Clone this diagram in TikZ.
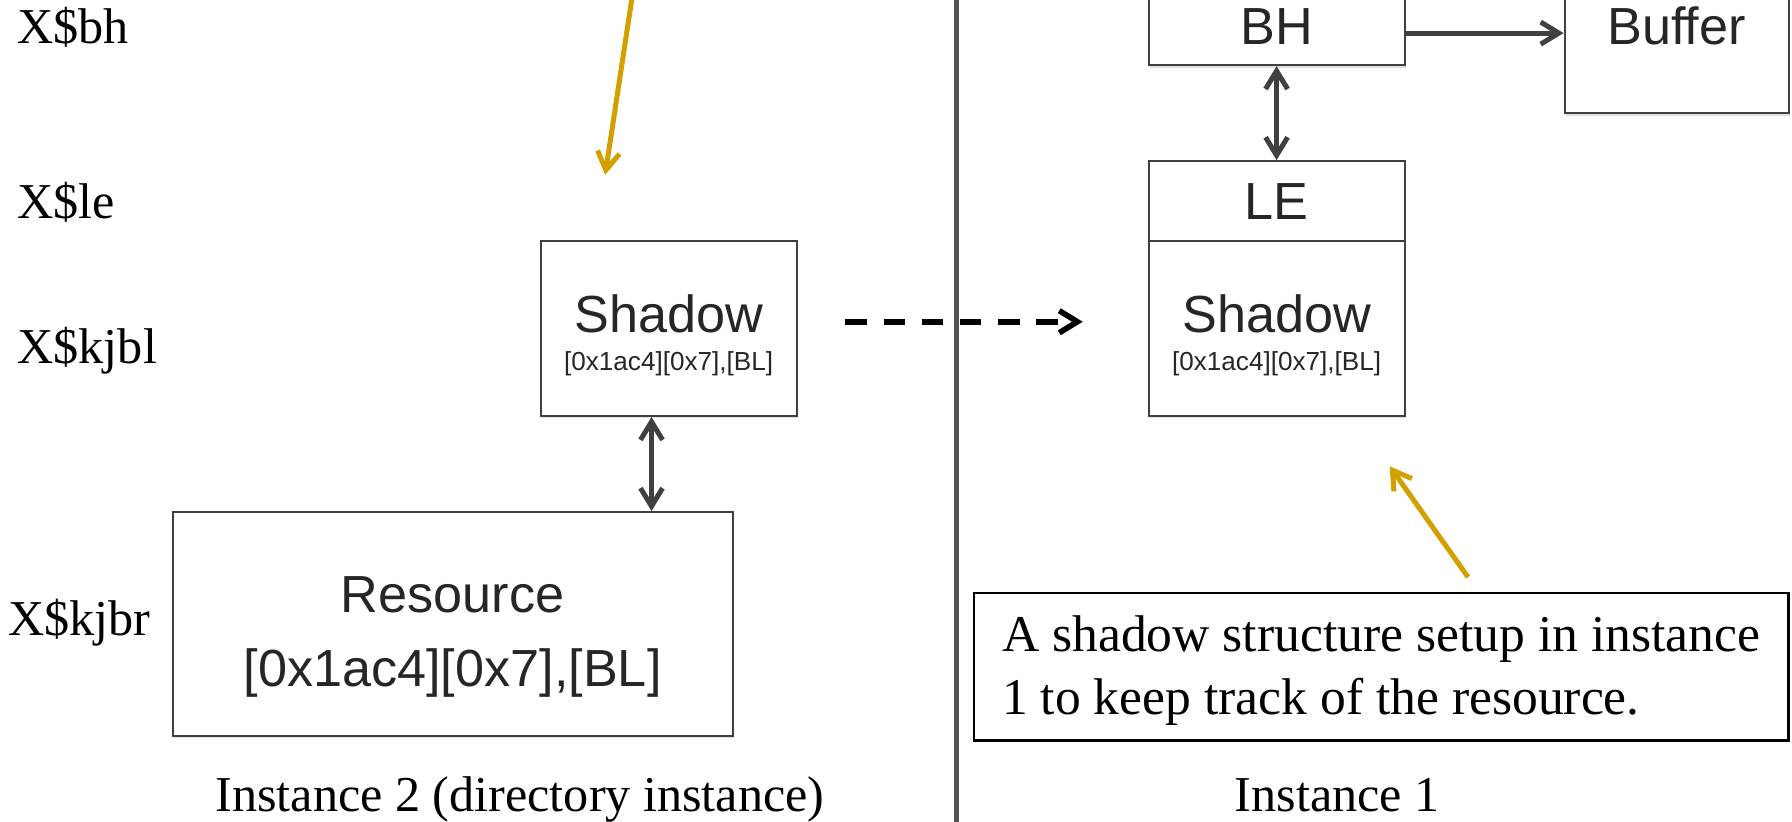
\documentclass[tikz,border=0pt]{standalone}
\usepackage{fontspec}
\setmainfont{Liberation Serif}
\setsansfont{Liberation Sans}
\usepackage{tikz}
\usetikzlibrary{arrows.meta,positioning,shadows}
\usepackage{xcolor}
\definecolor{dsgold}{RGB}{212,160,0}
\definecolor{dsgray}{RGB}{64,64,64}
\definecolor{dstext}{RGB}{38,38,38}
\newcommand{\dsbig}{\sffamily\fontsize{26}{30}\selectfont}
\newcommand{\dssmall}{\sffamily\fontsize{13}{15}\selectfont}
\newcommand{\dsserif}{\rmfamily\fontsize{25}{30}\selectfont}
\tikzstyle{struct} = [rectangle, draw=dsgray, line width=1pt, fill=white, text=dstext, font=\dsbig, inner sep=0pt, drop shadow={opacity=0.25, shadow xshift=0.8pt, shadow yshift=-1.2pt}]
\tikzstyle{boxtext} = [anchor=base, inner sep=0pt, text=dstext, font=\dsbig]
\tikzstyle{addrtext} = [anchor=base, inner sep=0pt, text=dstext, font=\dssmall]
\tikzstyle{rowlabel} = [anchor=base west, inner sep=0pt, font=\dsserif]
\tikzstyle{caption} = [anchor=base, inner sep=0pt, font=\dsserif]
\tikzstyle{note} = [rectangle, draw=black, line width=1.1pt, fill=white, align=left, inner sep=0pt, font=\rmfamily\fontsize{25.7}{31.7}\selectfont]
\tikzstyle{arrow} = [line width=2.5pt, color=dsgray, -{Straight Barb[length=9pt,width=11pt]}]
\tikzstyle{biarrow} = [arrow, {Straight Barb[length=9pt,width=11pt]}-{Straight Barb[length=9pt,width=11pt]}]
\tikzstyle{migrate} = [line width=2.8pt, color=black, dash pattern=on 10.8pt off 8.2pt, -{Straight Barb[length=9pt,width=11pt]}]
\tikzstyle{hint} = [line width=2.5pt, color=dsgold, -{Straight Barb[length=9pt,width=11pt]}]
\tikzstyle{divider} = [line width=2.5pt, color=dsgray!90]

\begin{document}
\begin{tikzpicture}[x=0.02cm, y=-0.02cm]
\useasboundingbox (0,0) rectangle (1568,719);

% row names
\node[rowlabel] (rowbh) at (15,38) {X\$bh};
\node[rowlabel] (rowle) at (15,191) {X\$le};
\node[rowlabel] (rowkjbl) at (15,318) {X\$kjbl};
\node[rowlabel] (rowkjbr) at (7,556) {X\$kjbr};

% Instance 2
\node[struct, minimum width=4.48cm, minimum height=3.06cm] (shadowL) at (585,287.5) {};
\node[boxtext] (shadowLname) at ([yshift=-2pt]shadowL.center) {Shadow};
\node[addrtext] (shadowLaddr) at ([yshift=-20.7pt]shadowL.center) {[0x1ac4][0x7],[BL]};
\node[struct, minimum width=9.8cm, minimum height=3.92cm] (resource) at (396,546) {};
\node[boxtext] (resname) at ([yshift=5.7pt]resource.center) {Resource};
\node[boxtext] (resaddr) at ([yshift=-31.2pt]resource.center) {[0x1ac4][0x7],[BL]};
\draw[biarrow] ([xshift=-8.5pt]shadowL.south) -- ([xshift=-8.5pt]shadowL.south |- resource.north);
\node[caption] (inst2) at (455,710) {Instance 2 (directory instance)};

% divider
\coordinate (divtop) at (837,-5);
\coordinate (divbot) at (837,725);
\draw[divider] (divtop) -- (divbot);

% Instance 1
\node[struct, minimum width=4.48cm, minimum height=1.36cm] (bh) at (1117,23) {BH};
\node[struct, minimum width=3.92cm, minimum height=3.04cm] (buffer) at (1467,23) {Buffer};
\node[struct, minimum width=4.48cm, minimum height=1.4cm] (le) at (1117,176) {LE};
\node[struct, minimum width=4.48cm, minimum height=3.06cm] (shadowR) at (1117,287.5) {};
\node[boxtext] (shadowRname) at ([yshift=-2pt]shadowR.center) {Shadow};
\node[addrtext] (shadowRaddr) at ([yshift=-20.7pt]shadowR.center) {[0x1ac4][0x7],[BL]};
\draw[arrow] ([yshift=-3.4pt]bh.east) -- ([yshift=-3.4pt]bh.east -| buffer.west);
\draw[biarrow] (bh.south) -- (le.north);
\node[caption] (inst1) at (1170,710) {Instance 1};

% shadow copied over
\draw[migrate] ([xshift=23.8pt, yshift=3.4pt]shadowL.east) -- ([xshift=-32.3pt, yshift=3.4pt]shadowR.west);

% note and pointers
\node[note, minimum width=14.26cm, minimum height=2.58cm] (note) at (1208.5,583.5) {\rule{0pt}{21.5pt}A shadow structure setup in instance\\1 to keep track of the resource.};
\coordinate (hintAfrom) at (553,-2);
\coordinate (hintAto) at (529.5,153);
\draw[hint] (hintAfrom) -- (hintAto);
\coordinate (hintBfrom) at (1284.5,505);
\coordinate (hintBto) at (1216,408);
\draw[hint] (hintBfrom) -- (hintBto);
\end{tikzpicture}
\end{document}
